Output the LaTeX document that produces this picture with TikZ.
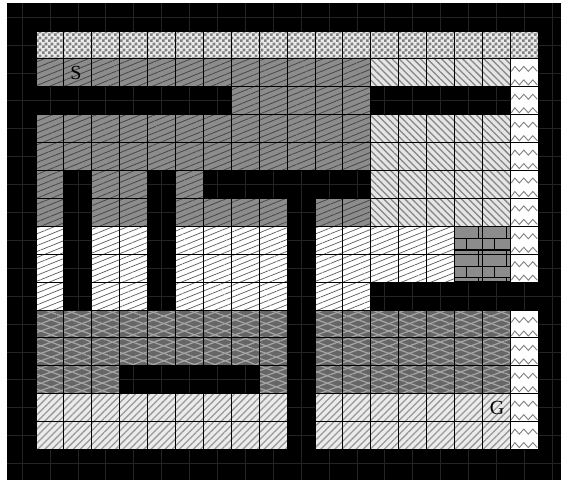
\documentclass[tikz,border=0pt]{standalone}
\usepackage{fontspec}
\setmainfont{Liberation Serif}
\usetikzlibrary{patterns,patterns.meta}

\pgfdeclarepatternformonly{finecheck}{\pgfpointorigin}{\pgfqpoint{6pt}{6pt}}{\pgfqpoint{6pt}{6pt}}{%
  \pgfpathrectangle{\pgfpointorigin}{\pgfqpoint{3pt}{3pt}}%
  \pgfpathrectangle{\pgfqpoint{3pt}{3pt}}{\pgfqpoint{3pt}{3pt}}%
  \pgfusepath{fill}}

\tikzset{
  cellb/.style={draw=black, line width=0.9pt},
  ck/.style={preaction={fill=black!8}, pattern=finecheck, pattern color=black!50, cellb},
  dk/.style={preaction={fill=black!45}, pattern={Lines[angle=22,distance=5.5pt,line width=0.8pt]}, pattern color=black!72, cellb},
  ln/.style={preaction={fill=black!10}, pattern={Lines[angle=-45,distance=5pt,line width=1.3pt]}, pattern color=black!48, cellb},
  wn/.style={preaction={fill=white}, pattern={Lines[angle=22,distance=5.5pt,line width=0.7pt]}, pattern color=black!65, cellb},
  ms/.style={preaction={fill=black!60}, preaction={pattern={Lines[angle=20,distance=7pt,line width=1.2pt]}, pattern color=black!35}, pattern={Lines[angle=-20,distance=7pt,line width=1.2pt]}, pattern color=black!35, cellb},
  lt/.style={preaction={fill=black!8}, pattern={Lines[angle=45,distance=5pt,line width=1.3pt]}, pattern color=black!40, cellb},
  zz/.style={fill=white, cellb},
  zig/.style={draw=black!50, line width=0.9pt},
  mortar/.style={draw=black, line width=1.4pt},
  faint/.style={draw=black!86, line width=0.5pt},
  lbl/.style={font=\fontsize{20}{20}\selectfont, inner sep=0pt}
}

\newcommand\cellrun[4]{\foreach \c in {#2,...,#3}{\path[#1] ({36+27.9*\c},{31+27.9*#4}) rectangle ++(27.9,27.9);}}
\newcommand\zigcell[1]{\foreach \yo in {10,23.5}{%
  \draw[zig] (511.3,{31+27.9*#1+\yo+2.5}) -- ++(3.5,-5) -- ++(4.5,5) -- ++(4.5,-5) -- ++(4.5,5) -- ++(4.5,-5) -- ++(4.5,5);}}
\newcommand\brickcell[2]{%
  \begin{scope}[shift={({36+27.9*#1},{31+27.9*#2})}]
    \fill[black!45] (0,0) rectangle (27.9,27.9);
    \draw[mortar] (0,12) -- (27.9,12) (0,23.5) -- (27.9,23.5) (24,0) -- (24,12) (12,12) -- (12,23.5) (24,23.5) -- (24,27.9);
    \draw[cellb, line width=1.3pt] (0,0) rectangle (27.9,27.9);
  \end{scope}}

\begin{document}
\begin{tikzpicture}[x=1pt,y=-1pt]
\useasboundingbox (0,0) rectangle (561,480);
\fill[white] (0,0) rectangle (561,480);
\fill[black] (7,3) rectangle (561,480);
% faint grid in walls
\foreach \k in {0,...,20} {\draw[faint] ({22+27.9*\k},3) -- ({22+27.9*\k},480);}
\foreach \k in {0,...,17} {\draw[faint] (7,{17+27.9*\k}) -- (561,{17+27.9*\k});}

% row 0
\cellrun{ck}{0}{17}{0}
% row 1
\cellrun{dk}{0}{11}{1}
\cellrun{ln}{12}{16}{1}
% row 2
\cellrun{dk}{7}{11}{2}
% rows 3-4
\foreach \r in {3,4}{\cellrun{dk}{0}{11}{\r}\cellrun{ln}{12}{16}{\r}}
% row 5
\cellrun{dk}{0}{0}{5}
\cellrun{dk}{2}{3}{5}
\cellrun{dk}{5}{5}{5}
\cellrun{ln}{12}{16}{5}
% row 6
\cellrun{dk}{0}{0}{6}
\cellrun{dk}{2}{3}{6}
\cellrun{dk}{5}{8}{6}
\cellrun{dk}{10}{11}{6}
\cellrun{ln}{12}{16}{6}
% rows 7-8
\foreach \r in {7,8}{\cellrun{wn}{0}{0}{\r}\cellrun{wn}{2}{3}{\r}\cellrun{wn}{5}{8}{\r}\cellrun{wn}{10}{14}{\r}}
% row 9
\cellrun{wn}{0}{0}{9}
\cellrun{wn}{2}{3}{9}
\cellrun{wn}{5}{8}{9}
\cellrun{wn}{10}{11}{9}
% rows 10-11
\foreach \r in {10,11}{\cellrun{ms}{0}{8}{\r}\cellrun{ms}{10}{16}{\r}}
% row 12
\cellrun{ms}{0}{2}{12}
\cellrun{ms}{8}{8}{12}
\cellrun{ms}{10}{16}{12}
% rows 13-14
\foreach \r in {13,14}{\cellrun{lt}{0}{8}{\r}\cellrun{lt}{10}{16}{\r}}
% zigzag column
\foreach \r in {1,...,8,10,11,12,13,14}{\cellrun{zz}{17}{17}{\r}\zigcell{\r}}
% bricks
\foreach \r in {7,8}{\brickcell{15}{\r}\brickcell{16}{\r}}

\node[lbl] (start) at (76,73) {S};
\node[lbl] (goal) at (497,408) {G};
\end{tikzpicture}
\end{document}
